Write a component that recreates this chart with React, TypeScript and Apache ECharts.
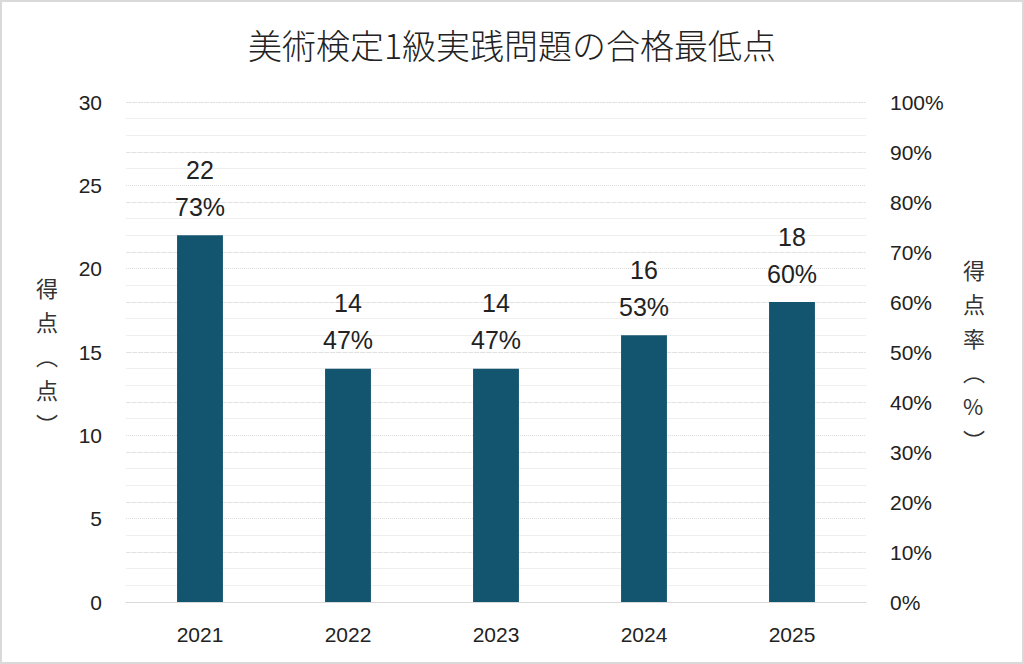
import React, { useEffect, useRef } from "react";
import * as echarts from "echarts";

const title = "美術検定1級実践問題の合格最低点";
const years = ["2021", "2022", "2023", "2024", "2025"];
const scores = [22, 14, 14, 16, 18];
const rates = [73, 47, 47, 53, 60];
const leftName = "得\n点\n︵\n点\n︶";
const rightName = "得\n点\n率\n︵\n%\n︶";

const LATIN = "'Liberation Sans', Arial, sans-serif";
const CJK = "'Noto Sans CJK JP', 'Noto Sans', sans-serif";

export default function App() {
  const ref = useRef<HTMLDivElement>(null);
  useEffect(() => {
    document.body.style.margin = "0";
    const chart = echarts.init(ref.current!, null, { renderer: "svg" });
    chart.setOption({
      animation: false,
      backgroundColor: "#ffffff",
      title: {
        text: title,
        left: "center",
        top: 20,
        textStyle: { fontFamily: CJK, fontSize: 34, fontWeight: 300, color: "#222" },
      },
      grid: { left: 124, right: 156, top: 100, bottom: 60, containLabel: false },
      xAxis: {
        type: "category",
        data: years,
        axisLine: { show: true, lineStyle: { color: "#d9d9d9" } },
        axisTick: { show: false },
        axisLabel: { fontFamily: LATIN, fontSize: 21, color: "#222", margin: 22 },
      },
      yAxis: [
        {
          type: "value",
          min: 0,
          max: 30,
          interval: 5,
          axisLine: { show: false },
          axisTick: { show: false },
          axisLabel: { fontFamily: LATIN, fontSize: 21, color: "#222", margin: 24 },
          splitLine: { lineStyle: { color: "#dcdcdc", type: "dotted" } },
          minorTick: { show: false, splitNumber: 5 },
          minorSplitLine: { show: true, lineStyle: { color: "#eeeeee" } },
        },
        {
          type: "value",
          min: 0,
          max: 100,
          interval: 10,
          axisLine: { show: false },
          axisTick: { show: false },
          axisLabel: { fontFamily: LATIN, fontSize: 21, color: "#222", margin: 24, formatter: "{value}%" },
          splitLine: { show: true, lineStyle: { color: "#e2e2e2", type: "dashed" } },
        },
      ],
      series: [
        {
          type: "bar",
          data: scores,
          barWidth: "31%",
          itemStyle: { color: "#13546f" },
          label: {
            show: true,
            position: "top",
            distance: 10,
            fontFamily: LATIN,
            fontSize: 25,
            lineHeight: 37,
            color: "#222",
            formatter: (p: any) => `${p.value}\n${rates[p.dataIndex]}%`,
          },
        },
      ],
      graphic: [
        {
          type: "text",
          left: 34,
          top: 268,
          style: {
            text: leftName,
            fontFamily: CJK,
            fontSize: 22,
            lineHeight: 34,
            fill: "#333",
            align: "center",
          },
        },
        {
          type: "text",
          left: 961,
          top: 250,
          style: {
            text: rightName,
            fontFamily: CJK,
            fontSize: 22,
            lineHeight: 34,
            fill: "#333",
            align: "center",
          },
        },
      ],
    });
    return () => chart.dispose();
  }, []);
  return (
    <div
      ref={ref}
      style={{
        width: 1024,
        height: 664,
        boxSizing: "border-box",
        border: "2px solid #d9d9d9",
      }}
    />
  );
}
